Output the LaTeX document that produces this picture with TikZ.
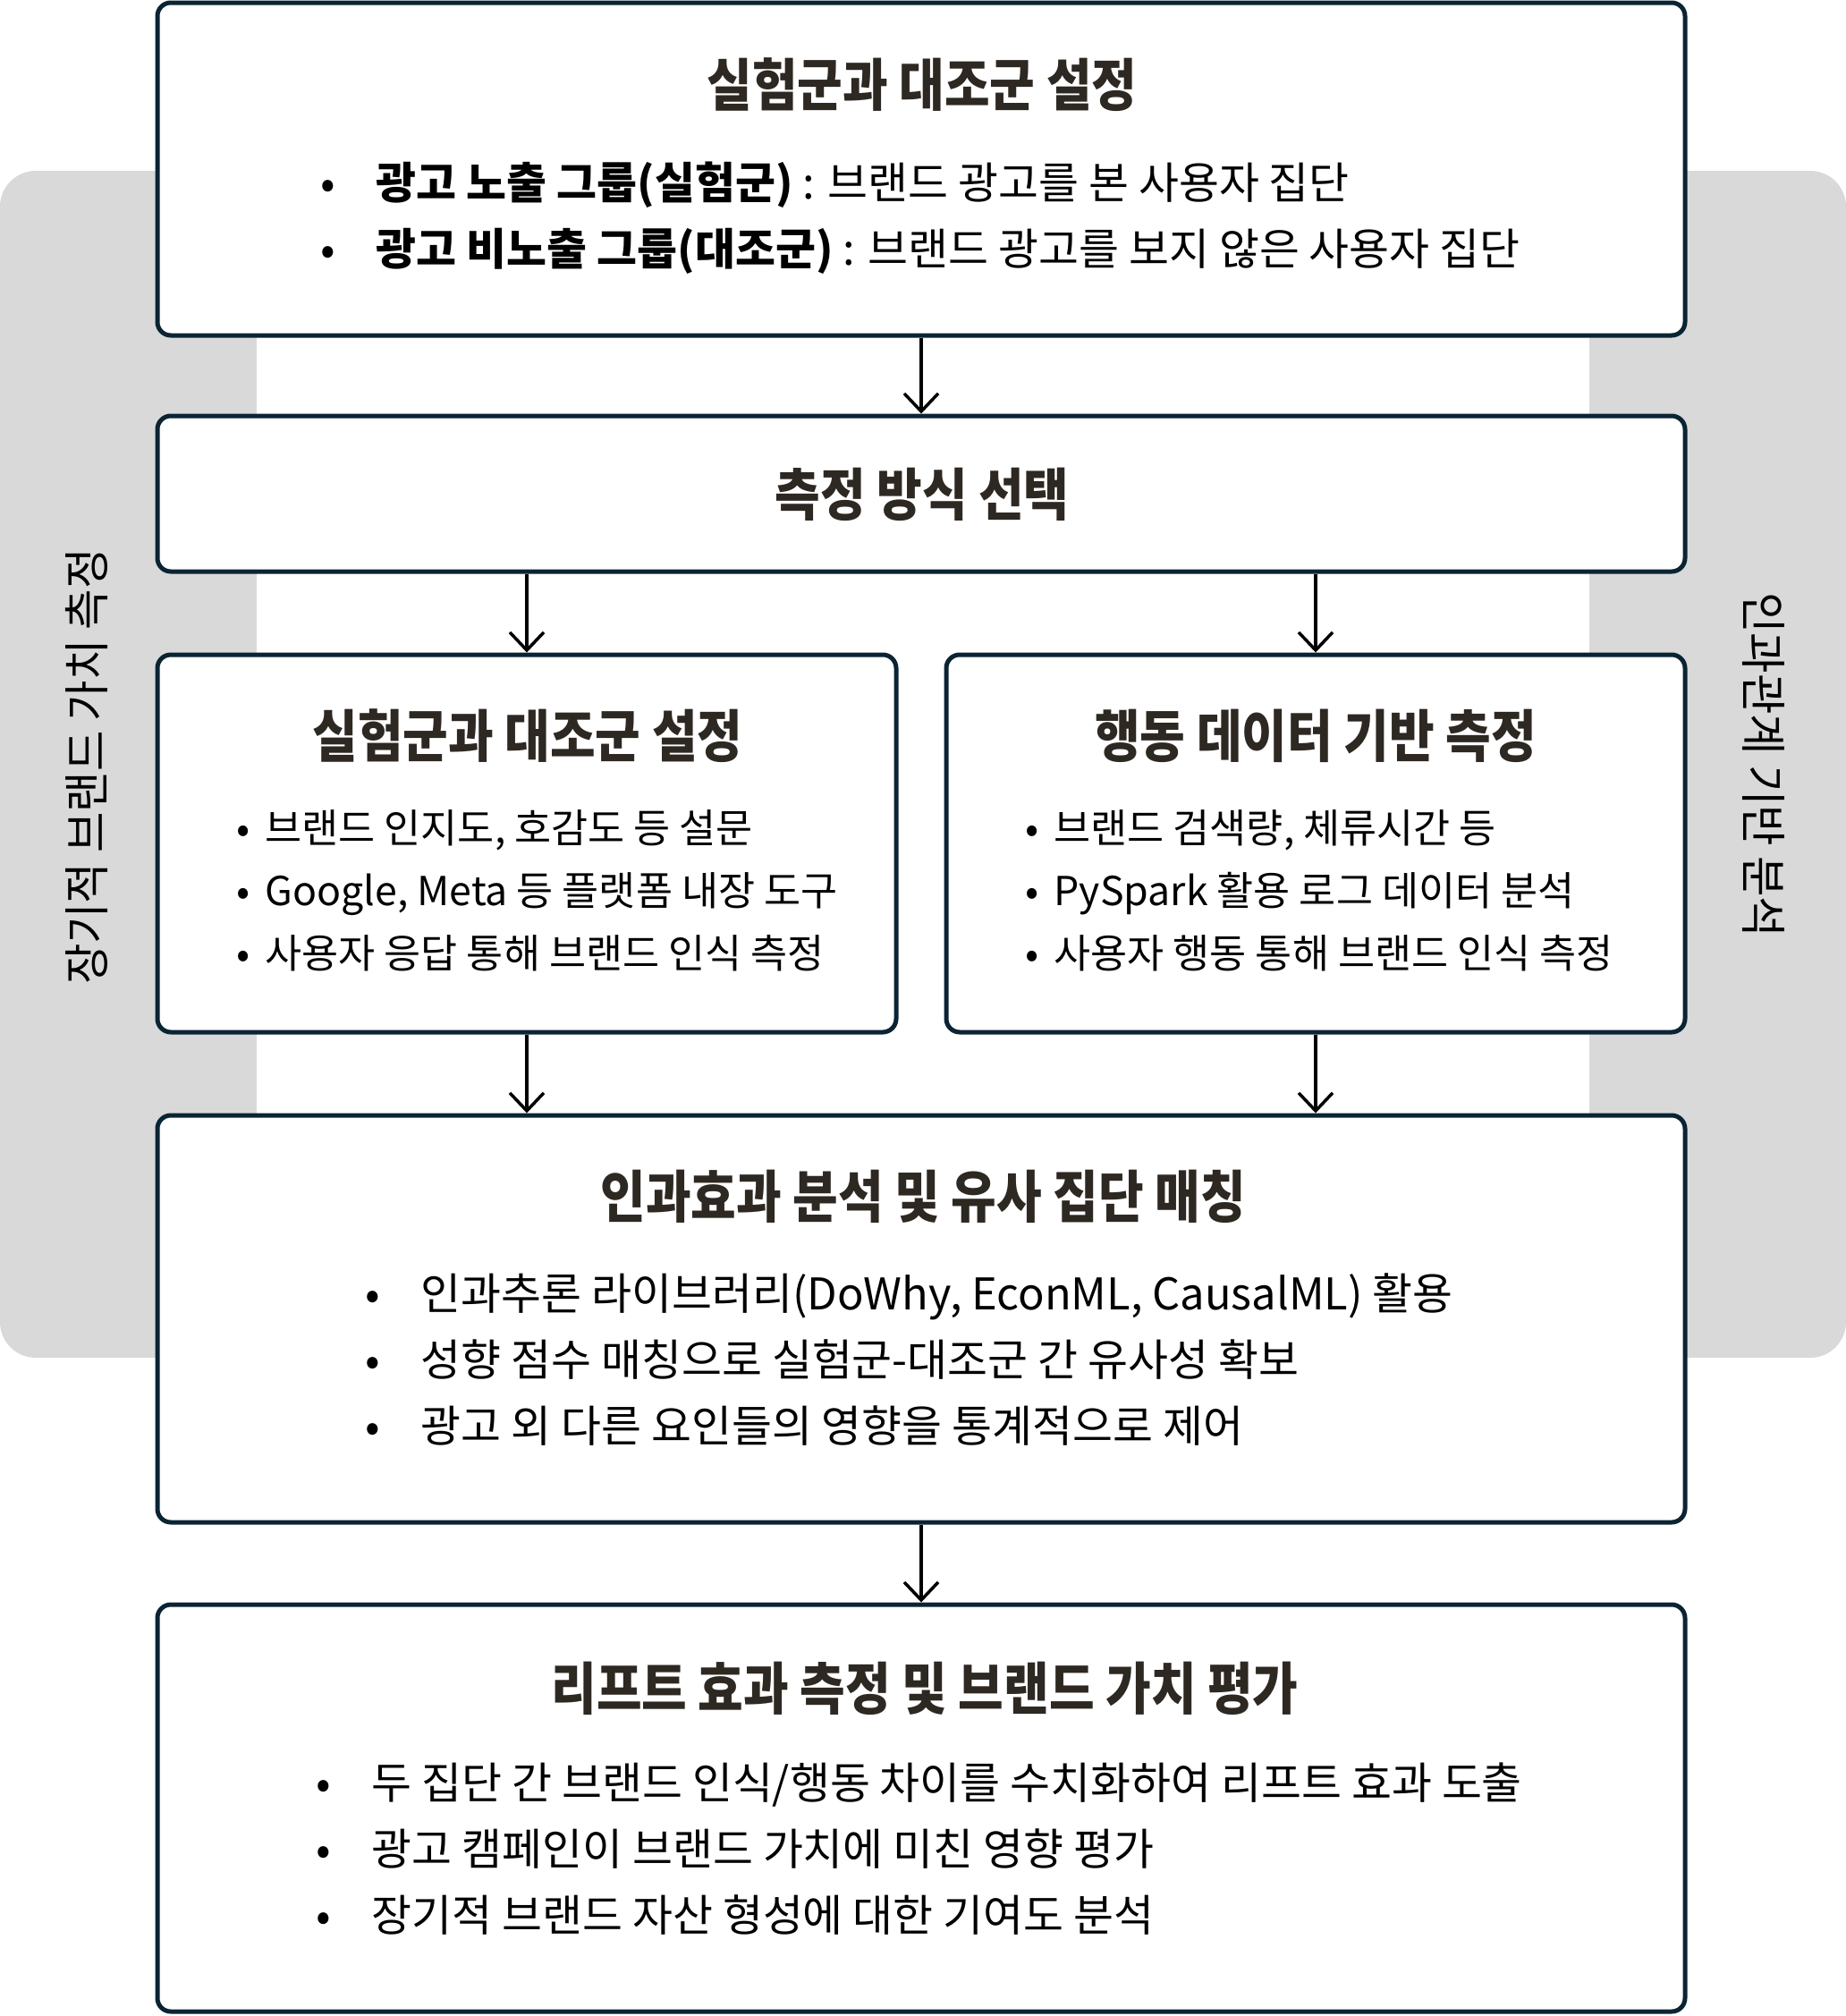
\documentclass[tikz,border=0pt]{standalone}
\usepackage{fontspec}
\setmainfont{Noto Sans CJK KR}
\newfontfamily\headfont[FakeStretch=0.87]{Noto Sans CJK KR}
\newfontfamily\sidefont[FakeStretch=0.95]{Noto Sans CJK KR}
\usetikzlibrary{arrows.meta, positioning}
\definecolor{BoxLine}{RGB}{10, 36, 51}
\definecolor{TitleInk}{RGB}{45, 40, 34}
\definecolor{PanelGray}{RGB}{217, 217, 217}
\newcommand{\wideitem}{\makebox[0.62cm][l]{•}}
\newcommand{\nearitem}{\makebox[0.32cm][l]{•}}

\begin{document}
\begin{tikzpicture}[
    stagebox/.style={draw=BoxLine, line width=0.05cm, rounded corners=0.15cm, fill=white},
    boxtitle/.style={font=\headfont\bfseries\fontsize{18pt}{21pt}\selectfont, text=TitleInk, inner sep=0},
    itemlist/.style={font=\fontsize{13.9pt}{21pt}\selectfont, align=left, anchor=west, inner sep=0},
    smalllist/.style={font=\fontsize{12.7pt}{19.9pt}\selectfont, align=left, anchor=west, inner sep=0},
    sidelabel/.style={font=\sidefont\fontsize{14.8pt}{16pt}\selectfont, inner sep=0},
    flow/.style={line width=0.035cm, -{Straight Barb[length=0.2cm, width=0.38cm]}}
]
            \useasboundingbox (0,0) rectangle (20.64,-22.54);
            % Side panels
            \fill[PanelGray, rounded corners=0.4cm] (0,-1.91) rectangle (20.64,-15.18);
            \fill[white] (2.87,-1.91) rectangle (17.77,-15.18);
            \node[sidelabel, rotate=90] (longterm) at (0.97,-8.57) {장기적 브랜드 가치 측정};
            \node[sidelabel, rotate=-90] (causal) at (19.72,-8.55) {인과관계 기반 분석};

            % Boxes
            \node[stagebox, minimum width=17.08cm, minimum height=3.72cm] (setup) at (10.30,-1.89) {};
            \node[stagebox, minimum width=17.08cm, minimum height=1.74cm] (method) at (10.30,-5.52) {};
            \node[stagebox, minimum width=8.26cm, minimum height=4.22cm] (survey) at (5.89,-9.43) {};
            \node[stagebox, minimum width=8.26cm, minimum height=4.22cm] (behavior) at (14.71,-9.43) {};
            \node[stagebox, minimum width=17.08cm, minimum height=4.55cm] (matching) at (10.30,-14.745) {};
            \node[stagebox, minimum width=17.08cm, minimum height=4.55cm] (lift) at (10.30,-20.215) {};

            % Titles
            \node[boxtitle] (setuptitle) at (10.31,-0.95) {실험군과 대조군 설정};
            \node[boxtitle] (methodtitle) at (10.31,-5.53) {측정 방식 선택};
            \node[boxtitle] (surveytitle) at (5.90,-8.23) {실험군과 대조군 설정};
            \node[boxtitle] (behaviortitle) at (14.71,-8.23) {행동 데이터 기반 측정};
            \node[boxtitle] (matchingtitle) at (10.32,-13.38) {인과효과 분석 및 유사 집단 매칭};
            \node[boxtitle] (lifttitle) at (10.34,-18.88) {리프트 효과 측정 및 브랜드 가치 평가};

            % Bullet lists
            \node[itemlist] (setupitems) at (3.58,-2.44) {\wideitem\textbf{광고 노출 그룹(실험군)} : 브랜드 광고를 본 사용자 집단\\
                \wideitem\textbf{광고 비노출 그룹(대조군)} : 브랜드 광고를 보지 않은 사용자 집단};
            \node[smalllist] (surveyitems) at (2.64,-9.96) {\nearitem 브랜드 인지도, 호감도 등 설문\\
                \nearitem Google, Meta 등 플랫폼 내장 도구\\
                \nearitem 사용자 응답 통해 브랜드 인식 측정};
            \node[smalllist] (behavioritems) at (11.46,-9.96) {\nearitem 브랜드 검색량, 체류시간 등\\
                \nearitem PySpark 활용 로그 데이터 분석\\
                \nearitem 사용자 행동 통해 브랜드 인식 측정};
            \node[itemlist] (matchingitems) at (4.08,-15.20) {\wideitem 인과추론 라이브러리(DoWhy, EconML, CausalML) 활용\\
                \wideitem 성향 점수 매칭으로 실험군-대조군 간 유사성 확보\\
                \wideitem 광고 외 다른 요인들의 영향을 통계적으로 제어};
            \node[itemlist] (liftitems) at (3.53,-20.67) {\wideitem 두 집단 간 브랜드 인식/행동 차이를 수치화하여 리프트 효과 도출\\
                \wideitem 광고 캠페인이 브랜드 가치에 미친 영향 평가\\
                \wideitem 장기적 브랜드 자산 형성에 대한 기여도 분석};

            % Arrows
            \draw[flow] (setup.south) -- (method.north);
            \draw[flow] (method.south -| survey.north) -- (survey.north);
            \draw[flow] (method.south -| behavior.north) -- (behavior.north);
            \draw[flow] (survey.south) -- (survey.south |- matching.north);
            \draw[flow] (behavior.south) -- (behavior.south |- matching.north);
            \draw[flow] (matching.south) -- (lift.north);
        \end{tikzpicture}
\end{document}
